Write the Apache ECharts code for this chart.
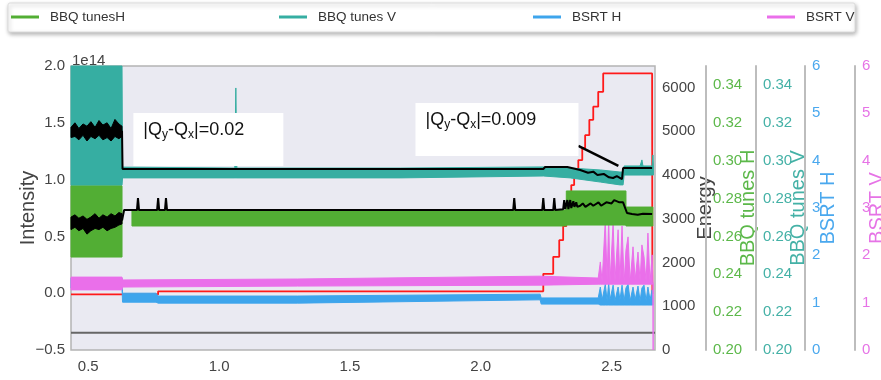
<!DOCTYPE html>
<html>
<head>
<meta charset="utf-8">
<title>BBQ tunes and BSRT</title>
<script src="https://cdn.jsdelivr.net/npm/echarts@6/dist/echarts.min.js"></script>
<style>
  html, body { margin: 0; padding: 0; background: #fff; }
  #chart { width: 881px; height: 380px; }
</style>
</head>
<body>
<div id="chart"></div>
<script>
const NARROW = "'Liberation Sans Narrow', 'Liberation Sans', Arial, sans-serif";
const SANS = "'Liberation Sans', Arial, sans-serif";

// ticks
const xTicks = [0.5, 1.0, 1.5, 2.0, 2.5];
const energyTicks = [0, 1000, 2000, 3000, 4000, 5000, 6000];
const tuneTicks = [0.20, 0.22, 0.24, 0.26, 0.28, 0.30, 0.32, 0.34];

const seriesNames = ['BBQ tunesH', 'BBQ tunes V', 'BSRT H', 'BSRT V'];
const seriesColors = ['#52ae34', '#36aea2', '#3ea5ec', '#ea6fea'];
const labelColors = ['#5cb84a', '#44b1a6', '#4aa8ee', '#e673e6'];
const legendLeft = [11, 279, 533, 767];

// bands: [time, low, high]
const tuneHBand = [
  [0.434, 0.2491, 0.2866], [0.629, 0.2491, 0.2866],
  null,
  [0.667, 0.2655, 0.2739], [2.327, 0.2655, 0.2739],
  [2.327, 0.2660, 0.2840], [2.555, 0.2660, 0.2840],
  [2.555, 0.2655, 0.2755], [2.658, 0.2655, 0.2755]
];
const tuneVBand = [
  [0.434, 0.287, 0.350], [0.629, 0.287, 0.350],
  [0.631, 0.2909, 0.2966], [1.060, 0.2909, 0.2961], [1.064, 0.2909, 0.3384],
  [1.068, 0.2909, 0.2961], [1.692, 0.2909, 0.2961], [2.239, 0.2919, 0.2967],
  [2.342, 0.2909, 0.2961], [2.457, 0.2887, 0.2951], [2.532, 0.2872, 0.2940],
  [2.544, 0.2872, 0.2940], [2.548, 0.2924, 0.2972], [2.609, 0.2924, 0.2972],
  [2.616, 0.2924, 0.3004], [2.620, 0.2924, 0.2972], [2.655, 0.2924, 0.2972],
  [2.658, 0.2924, 0.3030], [2.660, 0.2924, 0.2972]
];
const bsrtHBand = [
  [0.434, 1.31, 1.52], [0.629, 1.31, 1.52],
  [0.631, 1.01, 1.20], [0.759, 1.01, 1.20], [0.767, 0.99, 1.14], [1.300, 0.99, 1.14],
  [2.227, 1.06, 1.18], [2.231, 0.97, 1.10], [2.449, 0.97, 1.10],
  [2.457, 0.95, 1.33], [2.464, 0.95, 1.06], [2.476, 0.95, 1.39], [2.483, 0.95, 1.04],
  [2.489, 0.95, 1.42], [2.494, 0.95, 1.06], [2.506, 0.95, 1.37], [2.513, 0.95, 1.04],
  [2.525, 0.95, 1.33], [2.532, 0.95, 1.06], [2.540, 0.95, 1.37], [2.548, 0.95, 1.04],
  [2.555, 0.95, 1.31], [2.563, 0.95, 1.39], [2.571, 0.95, 1.04], [2.582, 0.95, 1.33],
  [2.590, 0.95, 1.06], [2.601, 0.95, 1.35], [2.609, 0.95, 1.04], [2.616, 0.95, 1.31],
  [2.624, 0.95, 1.37], [2.632, 0.95, 1.04], [2.639, 0.95, 1.33], [2.647, 0.95, 1.06],
  [2.655, 0.95, 1.27], [2.658, 0.95, 1.06]
];
const bsrtVBand = [
  [0.434, 1.27, 1.54], [0.629, 1.27, 1.54],
  [0.631, 1.33, 1.48], [1.300, 1.35, 1.50], [2.227, 1.37, 1.56], [2.449, 1.39, 1.52],
  [2.457, 1.39, 1.86], [2.464, 1.39, 1.44], [2.476, 1.39, 2.75], [2.483, 1.39, 1.46],
  [2.489, 1.39, 2.81], [2.494, 1.39, 1.42], [2.506, 1.39, 2.70], [2.513, 1.39, 1.44],
  [2.525, 1.39, 2.54], [2.532, 1.39, 1.46], [2.540, 1.39, 2.62], [2.548, 1.39, 1.42],
  [2.555, 1.39, 2.11], [2.563, 1.39, 2.39], [2.571, 1.39, 1.44], [2.582, 1.39, 2.18],
  [2.590, 1.39, 1.48], [2.601, 1.39, 2.07], [2.609, 1.39, 1.46], [2.616, 1.39, 2.22],
  [2.624, 1.39, 1.97], [2.632, 1.39, 1.44], [2.639, 1.39, 2.47], [2.647, 1.39, 1.42],
  [2.655, 1.39, 2.01], [2.658, 1.39, 1.42], [2.659, 0.00, 1.42]
];

// intensity traces (units of 1e14)
const upperNoise = [
  [0.434, 1.37, 1.46], [0.449, 1.38, 1.50], [0.464, 1.35, 1.45], [0.480, 1.39, 1.49],
  [0.495, 1.34, 1.47], [0.510, 1.38, 1.51], [0.526, 1.36, 1.46], [0.541, 1.39, 1.52],
  [0.556, 1.35, 1.48], [0.572, 1.37, 1.50], [0.587, 1.34, 1.45], [0.602, 1.38, 1.53],
  [0.617, 1.36, 1.49], [0.629, 1.38, 1.47]
];
const lowerNoise = [
  [0.434, 0.56, 0.67], [0.449, 0.58, 0.69], [0.464, 0.55, 0.66], [0.480, 0.57, 0.68],
  [0.495, 0.52, 0.65], [0.510, 0.55, 0.67], [0.526, 0.57, 0.70], [0.541, 0.56, 0.66],
  [0.556, 0.58, 0.69], [0.572, 0.55, 0.67], [0.587, 0.57, 0.70], [0.602, 0.58, 0.68],
  [0.617, 0.60, 0.71], [0.629, 0.61, 0.70]
];
const upperIntensity = [
  [0.629, 1.43], [0.631, 1.093], [2.239, 1.093], [2.246, 1.111], [2.331, 1.111],
  [2.380, 1.085], [2.410, 1.060], [2.430, 1.070], [2.446, 1.040], [2.470, 1.050],
  [2.490, 1.020], [2.506, 1.014], [2.520, 1.030], [2.540, 1.005], [2.544, 1.102],
  [2.655, 1.102]
];
const lowerIntensity = [
  [0.629, 0.64], [0.637, 0.732], [0.686, 0.732], [0.690, 0.838], [0.694, 0.732],
  [0.763, 0.732], [0.767, 0.838], [0.771, 0.732], [0.793, 0.732], [0.797, 0.838],
  [0.801, 0.732], [2.124, 0.732], [2.128, 0.838], [2.132, 0.732], [2.235, 0.732],
  [2.239, 0.838], [2.243, 0.732], [2.277, 0.732], [2.281, 0.838], [2.285, 0.732],
  [2.315, 0.74], [2.319, 0.82], [2.323, 0.74], [2.331, 0.82], [2.335, 0.74],
  [2.342, 0.82], [2.346, 0.75], [2.354, 0.81], [2.358, 0.76], [2.365, 0.80],
  [2.369, 0.76], [2.380, 0.77], [2.390, 0.79], [2.400, 0.76], [2.420, 0.79],
  [2.430, 0.77], [2.450, 0.80], [2.460, 0.77], [2.480, 0.80], [2.500, 0.79],
  [2.510, 0.82], [2.530, 0.80], [2.544, 0.80], [2.559, 0.706], [2.578, 0.697],
  [2.600, 0.690], [2.620, 0.700], [2.655, 0.697]
];
const baseLine = [[0.434, -0.348], [2.666, -0.348]];
const arrowLine = [[2.373, 1.296], [2.526, 1.120]];

// beam energy, stepped
const energy = [
  [0.434, 1270], [0.767, 1340], [2.239, 1740], [2.277, 2130], [2.300, 2510],
  [2.315, 2830], [2.327, 3200], [2.335, 3520], [2.346, 3770], [2.357, 4040],
  [2.373, 4340], [2.388, 4620], [2.399, 4910], [2.415, 5260], [2.430, 5560],
  [2.449, 5900], [2.468, 6320], [2.655, 6190], [2.656, 1280]
];

// annotations
const noteX = [0.959, 2.062];
const noteY = [1.353, 1.441];
const noteValue = ['0.02', '0.009'];
const noteSize = [[150, 53], [163, 53]];

function bandSeries(name, rows, yAxisIndex, color, z) {
  const segments = [];
  let cur = [];
  rows.forEach(r => {
    if (r === null) { if (cur.length) segments.push(cur); cur = []; }
    else cur.push(r);
  });
  if (cur.length) segments.push(cur);
  return {
    name: name,
    type: 'custom',
    yAxisIndex: yAxisIndex,
    z: z,
    silent: true,
    itemStyle: { color: color },
    data: rows.filter(r => r !== null),
    encode: { x: 0, y: [1, 2] },
    renderItem: function (params, api) {
      if (params.dataIndex !== 0) return null;
      return {
        type: 'group',
        children: segments.map(seg => {
          const top = seg.map(r => api.coord([r[0], r[2]]));
          const bottom = seg.slice().reverse().map(r => api.coord([r[0], r[1]]));
          return {
            type: 'polygon',
            shape: { points: top.concat(bottom) },
            style: { fill: color, stroke: color, lineWidth: 1 }
          };
        })
      };
    }
  };
}

function lineSeries(data, yAxisIndex, color, width, z, step) {
  return {
    type: 'line',
    yAxisIndex: yAxisIndex,
    data: data,
    step: step || false,
    symbol: 'none',
    silent: true,
    z: z,
    lineStyle: { color: color, width: width },
    itemStyle: { color: color }
  };
}

function rightAxis(offset, min, max, name, nameGap, color, labelOpts, showLine) {
  return {
    type: 'value',
    position: 'right',
    offset: offset,
    min: min,
    max: max,
    name: name,
    nameLocation: 'middle',
    nameRotate: 90,
    nameGap: nameGap,
    nameMoveOverlap: false,
    nameTextStyle: { fontFamily: SANS, fontSize: 20, color: color },
    axisLine: { show: showLine, onZero: false, lineStyle: { color: '#bdbdbd', width: 2 } },
    axisTick: { show: false },
    splitLine: { show: false },
    axisLabel: Object.assign({ fontFamily: NARROW, fontSize: 15, color: color, margin: 7 }, labelOpts)
  };
}

const chart = echarts.init(document.getElementById('chart'));

const notes = noteX.map((x, i) => ({
  value: [x, noteY[i]],
  symbolSize: noteSize[i],
  label: { formatter: '{n||Q}{s|y}{n|-Q}{s|x}{n||=' + noteValue[i] + '}' }
}));

chart.setOption({
  animation: false,
  title: {
    text: '1e14', left: 72, top: 53, padding: 0,
    textStyle: { fontFamily: NARROW, fontSize: 15, fontWeight: 'normal', color: '#444' }
  },
  graphic: [{
    type: 'rect', z: 0,
    shape: { x: 8, y: 3, width: 847, height: 29, r: 2 },
    style: { fill: '#fff', stroke: '#dcdcdc', lineWidth: 1, shadowBlur: 4, shadowOffsetX: 1, shadowOffsetY: 2, shadowColor: 'rgba(0,0,0,0.3)' }
  }],
  legend: seriesNames.map((n, i) => ({
    data: [{ name: n, icon: 'rect' }],
    left: legendLeft[i], top: 10, padding: 0,
    itemWidth: 28, itemHeight: 3,
    selectedMode: false,
    textStyle: { fontFamily: NARROW, fontSize: 13.5, color: '#333', padding: [0, 0, 0, 6] }
  })),
  grid: {
    left: 71, right: 226, top: 66, bottom: 30,
    outerBoundsMode: 'none',
    show: true, backgroundColor: '#eaeaf2', borderColor: '#b4b4b4', borderWidth: 1.5
  },
  xAxis: {
    type: 'value', min: 0.434, max: 2.666,
    axisLine: { show: false, onZero: false },
    axisTick: { show: false },
    splitLine: { show: false },
    axisLabel: {
      customValues: xTicks, fontFamily: NARROW, fontSize: 15, color: '#444', margin: 9,
      formatter: v => v.toFixed(1)
    }
  },
  yAxis: [
    {
      type: 'value', position: 'left', min: -0.5, max: 2.0, interval: 0.5,
      name: 'Intensity', nameLocation: 'middle', nameRotate: 90, nameGap: 33,
      nameMoveOverlap: false,
      nameTextStyle: { fontFamily: SANS, fontSize: 20, color: '#444' },
      axisLine: { show: false, onZero: false },
      axisTick: { show: false },
      splitLine: { show: false },
      axisLabel: {
        fontFamily: NARROW, fontSize: 15, color: '#444', margin: 6,
        formatter: v => (v < 0 ? '\u2212' : '') + Math.abs(v).toFixed(1)
      }
    },
    rightAxis(0, 0, 6490, 'Energy', 40, '#444', { customValues: energyTicks, formatter: v => String(v) }, false),
    rightAxis(51, 0.2, 0.35, 'BBQ tunes H', 32, labelColors[0], { customValues: tuneTicks, formatter: v => v.toFixed(2) }, true),
    rightAxis(101, 0.2, 0.35, 'BBQ tunes V', 32, labelColors[1], { customValues: tuneTicks, formatter: v => v.toFixed(2) }, true),
    rightAxis(150, 0, 6, 'BSRT H', 13, labelColors[2], { interval: 1 }, true),
    rightAxis(200, 0, 6, 'BSRT V', 12, labelColors[3], { interval: 1 }, true)
  ],
  series: [
    lineSeries(baseLine, 0, '#666', 2, 2),
    lineSeries(energy, 1, '#ff1a1a', 1.8, 3, 'end'),
    bandSeries(seriesNames[2], bsrtHBand, 4, seriesColors[2], 4),
    bandSeries(seriesNames[3], bsrtVBand, 5, seriesColors[3], 5),
    bandSeries(seriesNames[1], tuneVBand, 3, seriesColors[1], 6),
    bandSeries(seriesNames[0], tuneHBand, 2, seriesColors[0], 7),
    bandSeries(null, upperNoise, 0, '#000', 8),
    bandSeries(null, lowerNoise, 0, '#000', 8),
    lineSeries(upperIntensity, 0, '#000', 2, 8),
    lineSeries(lowerIntensity, 0, '#000', 2, 8),
    lineSeries(arrowLine, 0, '#000', 2.5, 9),
    {
      type: 'scatter', yAxisIndex: 0, z: 10, silent: true,
      symbol: 'rect',
      itemStyle: { color: '#fff', opacity: 1 },
      data: notes,
      label: {
        show: true, position: [10, 6], color: '#111',
        rich: {
          n: { fontFamily: NARROW, fontSize: 18, lineHeight: 22, color: '#111' },
          s: { fontFamily: NARROW, fontSize: 12, lineHeight: 13, verticalAlign: 'bottom', color: '#111' }
        }
      }
    }
  ]
});
</script>
</body>
</html>
